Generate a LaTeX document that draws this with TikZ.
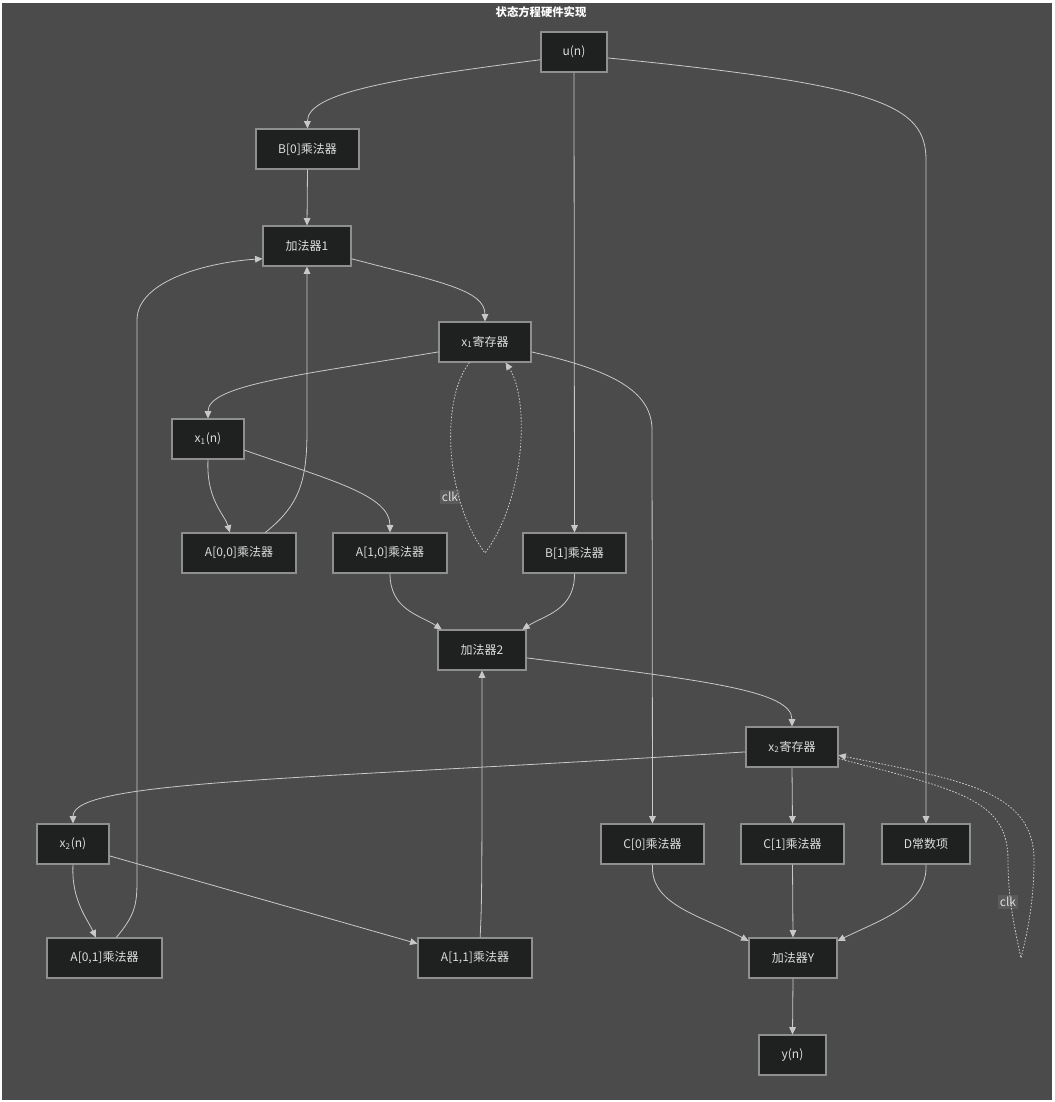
\documentclass[tikz,border=0pt]{standalone}
\usepackage{fontspec}
\setmainfont{Noto Sans CJK SC}
\usetikzlibrary{arrows.meta}
\definecolor{BgGray}{HTML}{4A4B4A}
\definecolor{BoxFill}{HTML}{1F2020}
\definecolor{BoxLine}{HTML}{8F8F8F}
\definecolor{TextGray}{HTML}{DDDDDD}
\definecolor{EdgeGray}{HTML}{C8C8C8}
\definecolor{ClkFill}{HTML}{5A5A5A}

\begin{document}
\begin{tikzpicture}[x=0.75pt, y=-0.75pt,
  box/.style={draw=BoxLine, fill=BoxFill, text=TextGray, line width=0.8pt,
    font=\fontsize{9}{10}\selectfont, minimum height=30pt, inner xsep=2pt,
    minimum width={#1*0.75pt}},
  flow/.style={draw=EdgeGray, line width=0.6pt, -{Triangle[length=5.5pt,width=5pt]}},
  clkflow/.style={flow, dash pattern=on 1.2pt off 1.2pt},
  clklabel/.style={fill=ClkFill, text=TextGray, inner sep=1.5pt,
    font=\fontsize{9}{10}\selectfont}]
  % canvas
  \fill[white] (0,0) rectangle (1054,1102);
  \fill[BgGray] (2,3) rectangle (1052,1100);
  \useasboundingbox (0,0) rectangle (1054,1102);
  % title
  \node[text=white, font=\bfseries\fontsize{8.5}{10}\selectfont] (title) at (541,12) {状态方程硬件实现};
  % input and B row
  \node[box=66] (u) at (574,52) {u(n)};
  \node[box=103] (B0) at (307.5,149) {B[0]乘法器};
  \node[box=88] (add1) at (307,246) {加法器1};
  \node[box=92] (x1reg) at (485,342) {x\textsubscript{1}寄存器};
  \node[box=72] (x1n) at (208,439) {x\textsubscript{1}(n)};
  % multipliers for x1
  \node[box=114] (A00) at (239,553) {A[0,0]乘法器};
  \node[box=114] (A10) at (390,553) {A[1,0]乘法器};
  \node[box=103] (B1) at (574.5,553) {B[1]乘法器};
  \node[box=88] (add2) at (482,650) {加法器2};
  \node[box=92] (x2reg) at (792,747) {x\textsubscript{2}寄存器};
  \node[box=72] (x2n) at (73,844) {x\textsubscript{2}(n)};
  % output row
  \node[box=103] (C0) at (652.5,844) {C[0]乘法器};
  \node[box=103] (C1) at (792.5,844) {C[1]乘法器};
  \node[box=88] (D) at (926,844) {D常数项};
  \node[box=115] (A01) at (104.5,958) {A[0,1]乘法器};
  \node[box=114] (A11) at (475,958) {A[1,1]乘法器};
  \node[box=88] (addY) at (793,958) {加法器Y};
  \node[box=67] (yn) at (792.5,1055) {y(n)};
  % clock loops
  \coordinate (clk1tip) at (485,553);
  \coordinate (clk2tip) at (1021,958);
  \node[clklabel] (clk1) at (450,497) {clk};
  \node[clklabel] (clk2) at (1008,902) {clk};

  % edges from u(n)
  \draw[flow] (u.193) .. controls (400,78) and (307,92) .. (B0.north);
  \draw[flow] (u.south) -- (B1.north);
  \draw[flow] (u.-10) .. controls (880,85) and (926,105) .. (926,160) -- (D.north);
  % state x1
  \draw[flow] (B0.south) -- (add1.north);
  \draw[flow] (add1.-16) .. controls (440,282) and (485,290) .. (x1reg.north);
  \draw[flow] (x1reg.192) .. controls (300,375) and (208,385) .. (x1n.north);
  \draw[flow] (x1reg.-12) .. controls (610,370) and (652,390) .. (652,430) -- (C0.north);
  \draw[clkflow] (x1reg.233) .. controls (440,400) and (445,500) .. (clk1tip)
    .. controls (525,500) and (530,400) .. (x1reg.-45);
  \draw[flow] (x1n.south) .. controls (206,500) and (225,515) .. (A00.114);
  \draw[flow] (x1n.-17) .. controls (330,480) and (390,495) .. (A10.north);
  \draw[flow] (A00.38) .. controls (300,505) and (307,480) .. (307,430) -- (add1.south);
  % state x2
  \draw[flow] (A10.south) .. controls (390,610) and (420,615) .. (add2.153);
  \draw[flow] (B1.south) .. controls (575,610) and (545,615) .. (add2.27);
  \draw[flow] (add2.-10) .. controls (700,680) and (792,690) .. (x2reg.north);
  \draw[flow] (x2reg.186) .. controls (300,780) and (73,780) .. (x2n.north);
  \draw[flow] (x2reg.south) -- (C1.north);
  \draw[clkflow] (x2reg.-14) .. controls (960,790) and (1008,800) .. (1008,860)
    .. controls (1008,900) and (1015,930) .. (clk2tip)
    .. controls (1028,930) and (1034,900) .. (1034,860)
    .. controls (1034,790) and (960,780) .. (x2reg.-10);
  \draw[flow] (x2n.south) .. controls (71,900) and (88,920) .. (A01.113);
  \draw[flow] (x2n.-18) -- (A11.166);
  \draw[flow] (A01.60) .. controls (135,915) and (137,905) .. (137,880) -- (137,320)
    .. controls (137,280) and (210,262) .. (add1.196);
  \draw[flow] (A11.76) .. controls (482,900) and (482,880) .. (add2.south);
  % output y
  \draw[flow] (C0.south) .. controls (650,905) and (700,915) .. (addY.159);
  \draw[flow] (C1.south) -- (addY.north);
  \draw[flow] (D.south) .. controls (928,905) and (880,920) .. (addY.21);
  \draw[flow] (addY.south) -- (yn.north);
\end{tikzpicture}
\end{document}
